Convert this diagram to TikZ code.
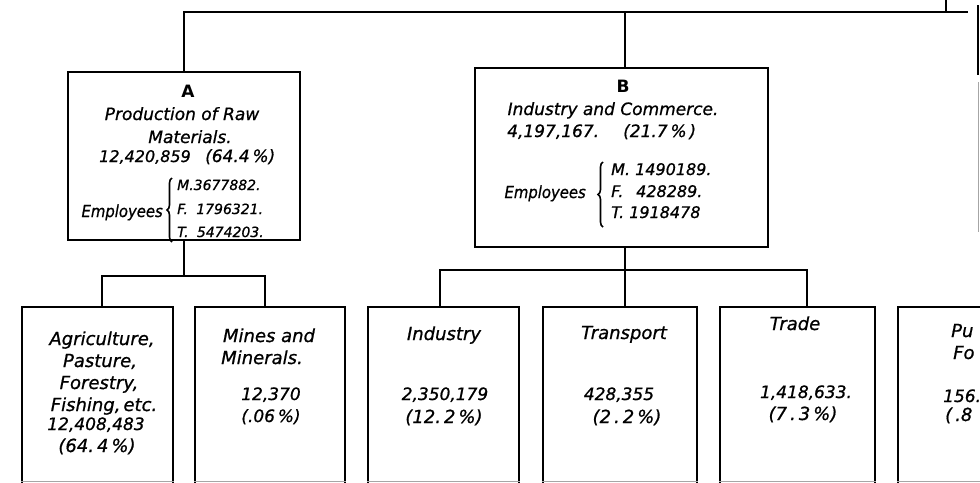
\documentclass[tikz,border=0pt]{standalone}
\usepackage{fontspec}
\setmainfont{DejaVu Sans}[ItalicFeatures={FakeBold=0.8}]
\newfontfamily\condfont{DejaVu Sans Condensed}[ItalicFeatures={FakeBold=0.8}]
\usetikzlibrary{decorations.pathreplacing}
\begin{document}
\begin{tikzpicture}[x=1pt,y=-1pt,
  box/.style={draw, line width=2.5pt, rectangle, inner sep=0pt},
  conn/.style={line width=2.5pt},
  faint/.style={line width=1pt, draw=black!35},
  txt/.style={anchor=base, inner sep=0pt, font=\fontsize{17}{20}\selectfont\itshape},
  txtw/.style={txt, anchor=base west},
  txte/.style={anchor=base east, inner sep=0pt, font=\fontsize{16.5}{19}\selectfont\condfont\itshape},
  sub/.style={anchor=base, inner sep=0pt, font=\fontsize{18}{21}\selectfont\itshape},
  subw/.style={sub, anchor=base west},
  head/.style={anchor=base, inner sep=0pt, font=\fontsize{17}{20}\selectfont\bfseries},
  empA/.style={anchor=base west, inner sep=0pt, font=\fontsize{14}{16}\selectfont\itshape},
  empB/.style={anchor=base west, inner sep=0pt, font=\fontsize{16}{18}\selectfont\itshape},
  bracestyle/.style={decorate, decoration={brace, amplitude=5pt}, line width=1.6pt}
]
\useasboundingbox (0,0) rectangle (980,482);
\fill[white] (0,0) rectangle (980,482);
\clip (0,0) rectangle (980,482);

% ---- boxes
\node[box, minimum width=232pt, minimum height=168pt] (A) at (184,156) {};
\node[box, minimum width=293pt, minimum height=179pt] (B) at (621.5,157.5) {};
\node[box, minimum width=151pt, minimum height=188pt] (agr) at (97.5,401) {};
\node[box, minimum width=150pt, minimum height=188pt] (mines) at (270,401) {};
\node[box, minimum width=151pt, minimum height=188pt] (ind) at (443.5,401) {};
\node[box, minimum width=154pt, minimum height=188pt] (trans) at (620,401) {};
\node[box, minimum width=155pt, minimum height=188pt] (trade) at (797.5,401) {};
\node[box, minimum width=162pt, minimum height=188pt] (pub) at (979,401) {};

% faint bottom edges
\coordinate (bl) at (0,481);
\foreach \b in {agr,mines,ind,trans,trade,pub}
  \draw[faint] (\b.west |- bl) -- (\b.east |- bl);

% ---- connectors
\coordinate (topbus) at (0,12);
\coordinate (topend) at (968,12);
\coordinate (up) at (946,0);
\draw[conn] (A.north) -- (A.north |- topbus) -- (topend);
\draw[conn] ([xshift=3.5pt]B.north) -- ([xshift=3.5pt]B.north |- topbus);
\draw[conn] (up) -- (up |- topbus);

% partial box C at the right edge
\coordinate (c1) at (978,5);
\coordinate (c2) at (978,75);
\coordinate (c3) at (978,82);
\coordinate (c4) at (978,232);
\draw[conn] (c1) -- (c2);
\draw[faint] (c3) -- (c4);

% below A
\coordinate (abus) at (0,276);
\draw[conn] (A.south) -- (A.south |- abus);
\draw[conn] ([xshift=4.5pt]agr.north) |- ([xshift=-5pt]mines.north |- abus) -- ([xshift=-5pt]mines.north);

% below B
\coordinate (bbus) at (0,270);
\draw[conn] ([xshift=3.5pt]B.south) -- ([xshift=3.5pt]B.south |- bbus);
\draw[conn] ([xshift=-3.5pt]ind.north) |- ([xshift=9.5pt]trade.north |- bbus) -- ([xshift=9.5pt]trade.north);
\draw[conn] ([xshift=5pt]trans.north) -- ([xshift=5pt]trans.north |- bbus);

% ---- box A text
\node[head] (Ahd) at (188,97) {A};
\node[txt] (A1) at (182,120) {Production of Raw};
\node[txt] (A2) at (190,143) {Materials.};
\node[txtw, font=\fontsize{16}{19}\selectfont\itshape] (A3) at (99,162) {12,420,859};
\node[txtw] (A4) at (205,162) {(64.4\,\%)};
\node[txte] (Aemp) at (163,217) {Employees};
\draw[bracestyle] (172,242) -- (172,178);
\node[empA] (Am) at (177,190) {M.3677882.};
\node[empA] (Af) at (177,214) {F.\hspace{0.6em}1796321.};
\node[empA] (At) at (177,237) {T.\hspace{0.6em}5474203.};

% ---- box B text
\node[head] (Bhd) at (623,92) {B};
\node[txt] (B1) at (613,115) {Industry and Commerce.};
\node[txtw] (B2) at (507,137) {4,197,167.};
\node[txtw] (B3) at (623,137) {(21.7\,\%\,)};
\node[txte] (Bemp) at (586,198) {Employees};
\draw[bracestyle] (603,227) -- (603,162);
\node[empB] (Bm) at (611,175) {M. 1490189.};
\node[empB] (Bf) at (611,197) {F.\hspace{0.8em}428289.};
\node[empB] (Bt) at (611,218) {T. 1918478};

% ---- bottom boxes text
\node[sub] (g1) at (102,345) {Agriculture,};
\node[sub] (g2) at (100,367) {Pasture,};
\node[sub] (g3) at (99,389) {Forestry,};
\node[sub] (g4) at (104,411) {Fishing,\,etc.};
\node[txt] (g5) at (96,430) {12,408,483};
\node[sub] (g6) at (97,452) {(64.\,4\,\%)};

\node[sub] (m1) at (269,342) {Mines and};
\node[sub] (m2) at (262,364) {Minerals.};
\node[txt] (m3) at (271,400) {12,370};
\node[txt] (m4) at (271,422) {(.06\,\%)};

\node[sub] (i1) at (444,340) {Industry};
\node[txt] (i2) at (445,400) {2,350,179};
\node[sub] (i3) at (444,423) {(12.\,2\,\%)};

\node[sub] (t1) at (624,339) {Transport};
\node[txt] (t2) at (619,400) {428,355};
\node[sub] (t3) at (627,423) {(2\,.\,2\,\%)};

\node[sub] (r1) at (795,330) {Trade};
\node[txt] (r2) at (806,398) {1,418,633.};
\node[sub] (r3) at (803,420) {(7\,.\,3\,\%)};

\node[subw] (p1) at (951,337) {Pu};
\node[subw] (p2) at (953,359) {Fo};
\node[txtw] (p3) at (943,402) {156.};
\node[subw] (p4) at (945,421) {(\,.8};
\end{tikzpicture}
\end{document}
